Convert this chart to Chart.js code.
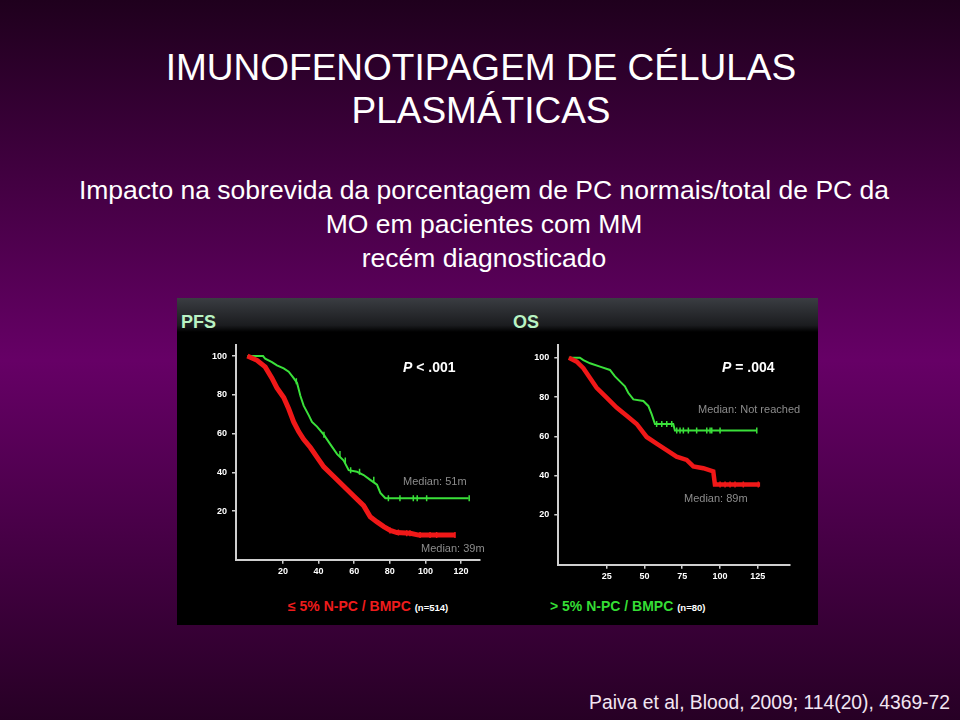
<!DOCTYPE html>
<html>
<head>
<meta charset="utf-8">
<script src="https://cdn.jsdelivr.net/npm/chart.js@4.4.0/dist/chart.umd.min.js"></script>
<style>
html, body { margin: 0; padding: 0; }
body {
    width: 960px; height: 720px; overflow: hidden; position: relative;
    background: linear-gradient(to bottom, #1f001d 0%, #660066 50%, #270025 100%);
    font-family: "Liberation Sans", Arial, sans-serif; color: #fff;
}
.abs { position: absolute; white-space: nowrap; }
#title { left: 1px; width: 960px; top: 46px; text-align: center; font-size: 37px; line-height: 43px; }
#subtitle { left: 4px; width: 960px; top: 173px; text-align: center; font-size: 26.5px; line-height: 34px; }
#ref { right: 10px; top: 692px; font-size: 19.3px; line-height: 22px; color: #f2e6f2; }
#panel { left: 177px; top: 298px; width: 641px; height: 327px; background: #000; }
#band { left: 0; top: 0; width: 641px; height: 34px; background: linear-gradient(#3a3d42, #1b1c1f 80%, #000); }
.head { font-size: 18px; font-weight: bold; line-height: 20px; color: #b9f3c3; top: 312px; }
.pval { font-size: 14px; font-weight: bold; line-height: 16px; }
.median { font-size: 11px; line-height: 12px; color: #8c8c8c; }
.legend { font-size: 14px; font-weight: bold; line-height: 16px; top: 598px; }
.legend small { font-size: 9.5px; color: #fff; }
.box { position: absolute; }
</style>
</head>
<body>
<div id="title" class="abs">IMUNOFENOTIPAGEM DE CÉLULAS<br>PLASMÁTICAS</div>
<div id="subtitle" class="abs">Impacto na sobrevida da porcentagem de PC normais/total de PC da<br>MO em pacientes com MM<br>recém diagnosticado</div>

<div id="panel" class="abs"><div id="band" class="abs"></div></div>
<div class="abs head" style="left:181px;">PFS</div>
<div class="abs head" style="left:513px;">OS</div>

<div class="box" style="left:200px; top:335px; width:300px; height:245px;"><canvas id="pfsChart" width="300" height="245"></canvas></div>
<div class="box" style="left:520px; top:335px; width:290px; height:250px;"><canvas id="osChart" width="290" height="250"></canvas></div>

<div class="abs pval" style="left:403px; top:359px;"><i>P</i> &lt; .001</div>
<div class="abs pval" style="left:722px; top:359px;"><i>P</i> = .004</div>
<div class="abs median" style="left:403px; top:475px;">Median: 51m</div>
<div class="abs median" style="left:421px; top:542px;">Median: 39m</div>
<div class="abs median" style="left:698px; top:403px;">Median: Not reached</div>
<div class="abs median" style="left:684px; top:492px;">Median: 89m</div>

<div class="abs legend" style="left:288px; color:#ee1c1c;">≤ 5% N-PC / BMPC <small>(n=514)</small></div>
<div class="abs legend" style="left:550px; color:#35dd35;">&gt; 5% N-PC / BMPC <small>(n=80)</small></div>

<div id="ref" class="abs">Paiva et al, Blood, 2009; 114(20), 4369-72</div>

<script>
// Kaplan-Meier curves (months, % surviving)

// PFS, <= 5% N-PC/BMPC (red)
const pfsLowT = [0, 5.4, 10, 13.8, 16.6, 20.4, 23.2, 26, 28.8, 31.6, 35.4, 39.1, 42.9, 48.5, 54.1, 59.7, 65.3, 69, 72.8, 76.6, 80.3, 84, 91.5, 96.2, 116.8];
const pfsLowS = [100, 97.8, 94.4, 88.6, 83.6, 78.6, 72.8, 66, 61, 57, 52.8, 47.8, 42.8, 37.8, 32.8, 27.8, 22.8, 17, 14.4, 12, 10, 8.9, 8.5, 7.6, 7.6];
const pfsLowCensT = [80.1, 84.8, 89.5, 91.3, 97, 102.6, 106.3, 116.6];
const pfsLowCensS = [10, 8.9, 8.5, 8.5, 7.6, 7.6, 7.6, 7.6];

// PFS, > 5% N-PC/BMPC (green)
const pfsHighT = [0, 8.8, 10, 13.8, 16.6, 20.4, 23.2, 26, 27.9, 29.8, 31.6, 34.5, 36.3, 39.1, 42.9, 46.6, 50.4, 54.1, 56.9, 61.6, 65.3, 69, 72.8, 74.7, 77.5, 124.3];
const pfsHighS = [100, 100, 98.6, 96.9, 95.2, 93.6, 91.9, 88.6, 86.1, 79.4, 74.4, 69.4, 66, 63.6, 59.4, 54.4, 49.4, 46.1, 41.1, 40.3, 38.6, 36.1, 33.6, 29.4, 26.6, 26.6];
const pfsHighCensT = [27.5, 43, 52, 55, 58, 63, 71, 79.2, 85.7, 93.2, 95.4, 100.7, 124.6];
const pfsHighCensS = [87, 59.4, 49.4, 46.1, 41.1, 40.3, 36.1, 26.6, 26.6, 26.6, 26.6, 26.6, 26.6];

// OS, <= 5% N-PC/BMPC (red)
const osLowT = [0, 5.2, 9.6, 14, 18.4, 25, 31.6, 38.3, 44.9, 51.5, 58.1, 64.7, 71.3, 78, 82.4, 89, 95.6, 96.7, 126.6];
const osLowS = [100, 98, 94.7, 89.7, 84.7, 79.7, 74.7, 70.5, 66.3, 59.7, 56.3, 53, 49.7, 48, 44.7, 43.8, 42.2, 35.5, 35.5];
const osLowCensT = [100.1, 103.4, 106.7, 110, 115.5, 125.4];
const osLowCensS = [35.5, 35.5, 35.5, 35.5, 35.5, 35.5];

// OS, > 5% N-PC/BMPC (green)
const osHighT = [0, 7.3, 9.6, 14, 20.6, 27.2, 30.5, 33.8, 37.1, 39.3, 42.7, 49.3, 52.6, 54.8, 57, 69.1, 70.2, 124.4];
const osHighS = [100, 100, 98.8, 97.2, 95.5, 93.8, 90.5, 88, 85.5, 82.2, 78.8, 78, 75.5, 71.3, 66.3, 66.3, 63, 63];
const osHighCensT = [58.1, 61.5, 64.8, 68.1, 71.4, 73.6, 75.8, 79.1, 84.6, 91.3, 93.5, 94.6, 100.1, 124.4];
const osHighCensS = [66.3, 66.3, 66.3, 66.3, 63, 63, 63, 63, 63, 63, 63, 63, 63, 63];

// Tick labels
const pfsXTicks = [20, 40, 60, 80, 100, 120];
const osXTicks = [25, 50, 75, 100, 125];
const yTicks = [20, 40, 60, 80, 100];

const RED = '#f01818';
const GREEN = '#3ae03a';
const AXIS = '#cfcfcf';
const FONT = '"Liberation Sans", Arial, sans-serif';

function toPoints(xs, ys) {
    return xs.map((x, i) => ({ x: x, y: ys[i] }));
}

function curve(xs, ys, color, width) {
    return {
        data: toPoints(xs, ys),
        borderColor: color,
        borderWidth: width,
        pointRadius: 0,
        tension: 0,
        fill: false
    };
}

function censors(xs, ys, color) {
    return {
        data: toPoints(xs, ys),
        showLine: false,
        borderColor: color,
        pointStyle: 'line',
        rotation: 90,
        pointRadius: 3,
        pointBorderWidth: 1.5
    };
}

function axisStyle() {
    return {
        grid: { display: true, drawOnChartArea: false, drawTicks: true, tickLength: 4, color: AXIS, lineWidth: 1.5 },
        border: { display: true, color: AXIS, width: 2 },
        ticks: { color: '#fff', font: { family: FONT, size: 9, weight: 'bold' }, maxRotation: 0, autoSkip: false }
    };
}

function drawKM(canvasId, datasets, xr, yr, xTicks, yWidth, pad) {
    const ctx = document.getElementById(canvasId);
    const xAxis = axisStyle();
    const yAxis = axisStyle();
    xAxis.ticks.padding = 2;
    yAxis.ticks.padding = 5;

    return new Chart(ctx, {
        type: 'line',
        data: { datasets: datasets },
        options: {
            responsive: false,
            animation: false,
            devicePixelRatio: 1,
            layout: { padding: pad },
            plugins: { legend: { display: false }, tooltip: { enabled: false } },
            scales: {
                x: Object.assign(xAxis, {
                    type: 'linear', min: xr[0], max: xr[1],
                    afterBuildTicks: s => { s.ticks = xTicks.map(v => ({ value: v })); },
                    afterFit: s => { s.height = 20.3; }
                }),
                y: Object.assign(yAxis, {
                    type: 'linear', min: yr[0], max: yr[1],
                    afterBuildTicks: s => { s.ticks = yTicks.map(v => ({ value: v })); },
                    afterFit: s => { s.width = yWidth; }
                })
            }
        }
    });
}

drawKM('pfsChart', [
    curve(pfsLowT, pfsLowS, RED, 5),
    censors(pfsLowCensT, pfsLowCensS, RED),
    curve(pfsHighT, pfsHighS, GREEN, 2),
    censors(pfsHighCensT, pfsHighCensS, GREEN)
], [-6.4, 130.5], [-5.1, 105.5], pfsXTicks, 36, { top: 4.7, right: 20.3, left: 0, bottom: 0 });

drawKM('osChart', [
    curve(osLowT, osLowS, RED, 4.5),
    censors(osLowCensT, osLowCensS, RED),
    curve(osHighT, osHighS, GREEN, 2),
    censors(osHighCensT, osHighCensS, GREEN)
], [-7, 146.4], [-5.3, 106.3], osXTicks, 38.3, { top: 6.3, right: 20, left: 0, bottom: 0 });
</script>
</body>
</html>
